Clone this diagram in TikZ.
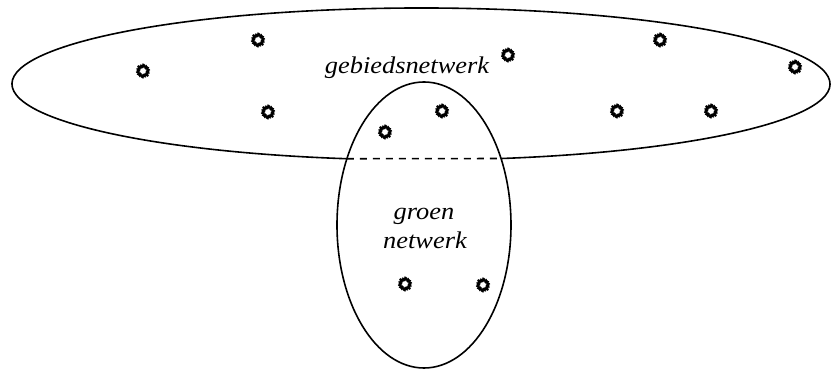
\documentclass[tikz,border=0pt]{standalone}
\usepackage{fontspec}
\setmainfont{Liberation Serif}
\usetikzlibrary{shapes.geometric}
\newcommand{\wlabel}[1]{\scalebox{1.1}[1]{\itshape #1}}
\tikzset{
  outline/.style={line width=1.6pt},
  hidden/.style={line width=1.6pt, dash pattern=on 7pt off 6pt},
  gear/.style={circle, draw, line width=2.4pt, minimum size=10.5pt, inner sep=0pt,
    preaction={draw, line width=4.2pt, dash pattern=on 1.2pt off 1.1pt}},
  lbl/.style={font=\fontsize{24}{28}\selectfont, inner sep=0pt, anchor=base},
}
\begin{document}
\begin{tikzpicture}[x=1pt,y=1pt]
\useasboundingbox (0,0) rectangle (831,369);

% area network: solid upper part, straight dashed chord where it passes behind the green network
\coordinate (bigc) at (421,285);
\path (bigc) ++(259.55:409 and 76) coordinate (cutL);
\path (bigc) ++(281.3:409 and 76) coordinate (cutR);
\draw[outline] (cutR) arc[start angle=281.3, end angle=619.55, x radius=409, y radius=76];
\draw[hidden] (cutL) -- (cutR);

% green network
\node[draw, outline, ellipse, minimum width=174pt, minimum height=286pt, inner sep=0pt] (green) at (424,144) {};

% labels
\node[lbl] (lblarea) at (407,295.5) {\wlabel{gebiedsnetwerk}};
\node[lbl] (lblgreen1) at (424,149.7) {\wlabel{groen}};
\node[lbl] (lblgreen2) at (425,120.7) {\wlabel{netwerk}};

% members
\node[gear] (m1) at (143,298) {};
\node[gear] (m2) at (258,329) {};
\node[gear] (m3) at (268,257) {};
\node[gear] (m4) at (385,237) {};
\node[gear] (m5) at (442,258) {};
\node[gear] (m6) at (508,314) {};
\node[gear] (m7) at (660,329) {};
\node[gear] (m8) at (617,258) {};
\node[gear] (m9) at (711,258) {};
\node[gear] (m10) at (795,302) {};
\node[gear] (m11) at (405,85) {};
\node[gear] (m12) at (483,84) {};
\end{tikzpicture}
\end{document}
